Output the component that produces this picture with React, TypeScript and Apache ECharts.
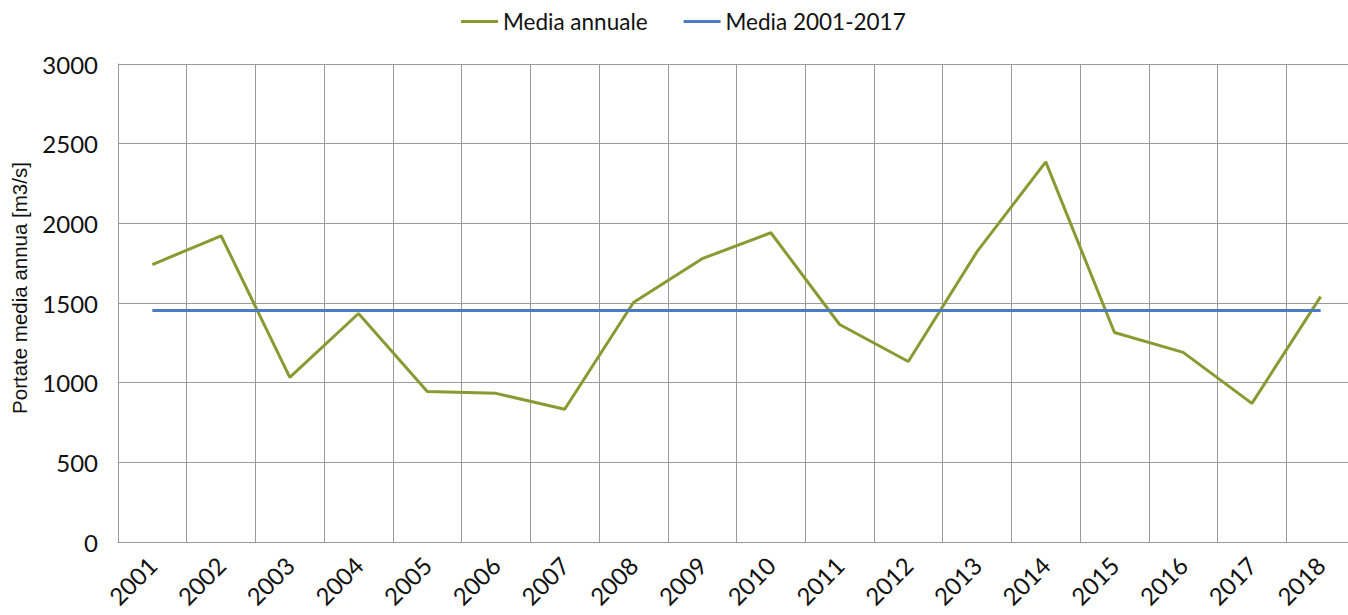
import React, { useEffect, useRef } from "react";
import * as echarts from "echarts";

const years = ["2001","2002","2003","2004","2005","2006","2007","2008","2009","2010","2011","2012","2013","2014","2015","2016","2017","2018"];
const mediaAnnuale = [1741, 1922, 1033, 1434, 945, 933, 833, 1503, 1778, 1941, 1365, 1133, 1822, 2386, 1315, 1190, 870, 1540];
const mediaPeriodo = 1453;
const mediaPeriodoValues = years.map(() => mediaPeriodo);

export default function App() {
  const ref = useRef<HTMLDivElement>(null);
  useEffect(() => {
    if (!ref.current) return;
    const chart = echarts.init(ref.current, null, { renderer: "svg" });
    const font = "Lato, 'Open Sans', sans-serif";
    chart.setOption({
      animation: false,
      textStyle: { fontFamily: font },
      legend: {
        top: 5,
        left: 456,
        itemWidth: 37,
        itemHeight: 3,
        itemGap: 36,
        icon: "rect",
        textStyle: { fontSize: 22.5, color: "#111", fontFamily: font },
        data: ["Media annuale", "Media 2001-2017"],
      },
      grid: { left: 118, top: 64, right: -7, bottom: 73, containLabel: false, outerBoundsMode: "none" },
      xAxis: {
        type: "category",
        data: years,
        boundaryGap: true,
        axisLine: { show: true, lineStyle: { color: "#999", width: 1 } },
        axisTick: { show: false },
        splitLine: { show: true, lineStyle: { color: "#999", width: 1 } },
        axisLabel: { rotate: 45, fontSize: 24, color: "#111", margin: 19, fontFamily: font, interval: 0 },
      },
      yAxis: {
        type: "value",
        min: 0,
        max: 3000,
        interval: 500,
        name: "Portate media annua [m3/s]",
        nameLocation: "middle",
        nameGap: 88,
        nameTextStyle: { fontSize: 20.5, color: "#111", fontFamily: "'Liberation Sans', Arial, sans-serif", padding: [0, 0, 0, 30] },
        axisLine: { show: true, lineStyle: { color: "#999", width: 1 } },
        axisTick: { show: false },
        splitLine: { show: true, lineStyle: { color: "#999", width: 1 } },
        axisLabel: { fontSize: 24, color: "#111", margin: 20, fontFamily: font, formatter: (v: number) => String(v) },
      },
      series: [
        {
          name: "Media annuale",
          type: "line",
          data: mediaAnnuale,
          symbol: "none",
          lineStyle: { color: "#8a9a32", width: 3 },
          itemStyle: { color: "#8a9a32" },
        },
        {
          name: "Media 2001-2017",
          type: "line",
          data: mediaPeriodoValues,
          symbol: "none",
          lineStyle: { color: "#4a7cc4", width: 3 },
          itemStyle: { color: "#4a7cc4" },
        },
      ],
    });
    return () => chart.dispose();
  }, []);
  return <div ref={ref} style={{ width: 1348, height: 615, position: "absolute", left: 0, top: 0 }} />;
}
